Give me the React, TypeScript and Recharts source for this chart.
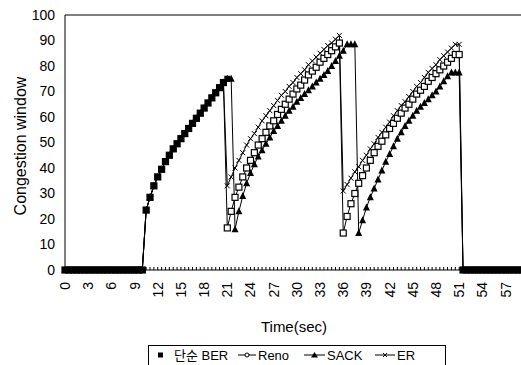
import React from "react";
import { LineChart, Line, XAxis, YAxis, ReferenceLine } from "recharts";

const _ = null;

// time axis, every 0.5 s
const time = [
  0, 0.5, 1, 1.5, 2, 2.5, 3, 3.5, 4, 4.5, 5, 5.5, 6, 6.5, 7, 7.5, 8, 8.5, 9, 9.5,
  10, 10.5, 11, 11.5, 12, 12.5, 13, 13.5, 14, 14.5, 15, 15.5, 16, 16.5, 17, 17.5,
  18, 18.5, 19, 19.5, 20, 20.5, 21, 21.5, 22, 22.5, 23, 23.5, 24, 24.5, 25, 25.5,
  26, 26.5, 27, 27.5, 28, 28.5, 29, 29.5, 30, 30.5, 31, 31.5, 32, 32.5, 33, 33.5,
  34, 34.5, 35, 35.5, 36, 36.5, 37, 37.5, 38, 38.5, 39, 39.5, 40, 40.5, 41, 41.5,
  42, 42.5, 43, 43.5, 44, 44.5, 45, 45.5, 46, 46.5, 47, 47.5, 48, 48.5, 49, 49.5,
  50, 50.5, 51, 51.5, 52, 52.5, 53, 53.5, 54, 54.5, 55, 55.5, 56, 56.5, 57, 57.5,
  58, 58.5, 59,
];

const timeLabels = [0, 3, 6, 9, 12, 15, 18, 21, 24, 27, 30, 33, 36, 39, 42, 45, 48, 51, 54, 57];
const yTicks = [0, 10, 20, 30, 40, 50, 60, 70, 80, 90, 100];

// 단순 BER
const berValues = [
  0, 0, 0, 0, 0, 0, 0, 0, 0, 0, 0, 0, 0, 0, 0, 0, 0, 0, 0, 0, 0,
  23.5, 28.5, 33, 36.5, 39.5, 42.5, 45, 47.5, 49.5, 51.5, 53.5, 55.5, 57.5, 59.5,
  61.5, 63.5, 65.5, 67.5, 69.5, 71.5, 73.5, 75,
  _, _, _, _, _, _, _, _, _, _, _, _, _, _, _, _, _, _, _, _,
  _, _, _, _, _, _, _, _, _, _, _, _, _, _, _, _, _, _, _, _,
  _, _, _, _, _, _, _, _, _, _, _, _, _, _, _, _, _, _, _, _,
  0, 0, 0, 0, 0, 0, 0, 0, 0, 0, 0, 0, 0, 0, 0, 0,
];

const renoValues = [
  0, 0, 0, 0, 0, 0, 0, 0, 0, 0, 0, 0, 0, 0, 0, 0, 0, 0, 0, 0, 0,
  23.5, 28.5, 33, 36.5, 39.5, 42.5, 45, 47.5, 49.5, 51.5, 53.5, 55.5, 57.5, 59.5,
  61.5, 63.5, 65.5, 67.5, 69.5, 71.5, 73.5,
  16.5, 23, 28.5, 32.5, 36.5, 40, 43, 46, 49, 51.5, 54, 56.5, 58.5, 61, 63,
  65, 67, 69, 71, 72.5, 74.5, 76.5, 78, 79.5, 81.5, 83, 84.5, 86, 87.5, 89,
  14.5, 21, 26, 30, 34, 37, 40, 43, 46, 48.5, 50.5, 53, 55.5, 57.5, 59.5, 61.5,
  63.5, 65, 67, 69, 70.5, 72, 74, 75.5, 77, 78.5, 80, 81.5, 83, 84.5, 84.5,
  0, 0, 0, 0, 0, 0, 0, 0, 0, 0, 0, 0, 0, 0, 0, 0,
];

const sackValues = [
  0, 0, 0, 0, 0, 0, 0, 0, 0, 0, 0, 0, 0, 0, 0, 0, 0, 0, 0, 0, 0,
  23.5, 28.5, 33, 36.5, 39.5, 42.5, 45, 47.5, 49.5, 51.5, 53.5, 55.5, 57.5, 59.5,
  61.5, 63.5, 65.5, 67.5, 69.5, 71.5, 73.5, 75,
  75,
  16, 23, 29, 34, 38, 41.5, 44.5, 47, 49.5, 52, 54.5, 56.5, 58.5, 60.5, 62.5,
  64, 66, 67.5, 69, 70.5, 72, 73.5, 75, 76.5, 78, 80, 82, 84, 86,
  88.5, 88.5, 88.5,
  14.5, 19.5, 24.5, 28.5, 32, 35.5, 39, 42.5, 45.5, 48.5, 51.5, 54, 56.5, 58.5,
  60.5, 62.5, 64, 65.5, 67, 68.5, 70, 72, 74, 76, 77.5, 77.5, 77.5,
  0, 0, 0, 0, 0, 0, 0, 0, 0, 0, 0, 0, 0, 0, 0, 0,
];

const erValues = [
  0, 0, 0, 0, 0, 0, 0, 0, 0, 0, 0, 0, 0, 0, 0, 0, 0, 0, 0, 0, 0,
  23.5, 28.5, 33, 36.5, 39.5, 42.5, 45, 47.5, 49.5, 51.5, 53.5, 55.5, 57.5, 59.5,
  61.5, 63.5, 65.5, 67.5, 69.5, 71.5, 73.5,
  33, 36.5, 40, 43, 46, 49, 51.5, 53.5, 56, 58.5, 60.5, 62.5, 64.5, 66.5, 68.5,
  70, 72, 73.5, 75.5, 77, 78.5, 80.5, 82, 83.5, 85, 86.5, 88, 89, 90.5, 92,
  31, 33.5, 36, 38.5, 40.5, 43, 45, 47.5, 49.5, 52, 54, 56, 58, 60.5, 62.5, 64.5,
  66, 68, 70, 72, 73.5, 75.5, 77.5, 79, 80.5, 82.5, 84, 85.5, 87, 88.5, 88.5,
  0, 0, 0, 0, 0, 0, 0, 0, 0, 0, 0, 0, 0, 0, 0, 0,
];

const data = time.map((t, i) => ({
  t,
  ber: berValues[i],
  reno: renoValues[i],
  sack: sackValues[i],
  er: erValues[i],
}));

const FONT = "'Liberation Sans', Arial, 'Noto Sans CJK KR', sans-serif";

const berDot = (p: any) => {
  if (p.value == null || p.cy == null) return <g key={p.index} />;
  return <rect key={p.index} x={p.cx - 3} y={p.cy - 3} width={6} height={6} fill="#000" />;
};

const renoDot = (p: any) => {
  if (p.value == null || p.cy == null) return <g key={p.index} />;
  return (
    <rect key={p.index} x={p.cx - 3} y={p.cy - 3} width={6} height={6} fill="#fff" stroke="#000" strokeWidth={1.2} />
  );
};

const sackDot = (p: any) => {
  if (p.value == null || p.cy == null) return <g key={p.index} />;
  const { cx, cy } = p;
  return <polygon key={p.index} points={`${cx},${cy - 4} ${cx - 3.5},${cy + 3} ${cx + 3.5},${cy + 3}`} fill="#000" />;
};

const erDot = (p: any) => {
  if (p.value == null || p.cy == null) return <g key={p.index} />;
  const { cx, cy } = p;
  return (
    <path key={p.index} d={`M${cx - 2.5},${cy - 2.5}L${cx + 2.5},${cy + 2.5}M${cx - 2.5},${cy + 2.5}L${cx + 2.5},${cy - 2.5}`} stroke="#000" strokeWidth={1} />
  );
};

const TimeTick = (props: any) => {
  const { x, y, payload } = props;
  const v = payload.value;
  const ly = y + 12;
  return (
    <g>
      <line x1={x} y1={y} x2={x} y2={y - 3} stroke="#000" strokeWidth={1} />
      {timeLabels.includes(v) && (
        <text
          x={x}
          y={ly}
          transform={`rotate(-90 ${x} ${ly})`}
          textAnchor="end"
          dominantBaseline="central"
          fontSize={14}
          fontFamily={FONT}
          fill="#000"
        >
          {v}
        </text>
      )}
    </g>
  );
};

function LegendBox() {
  const y = 355;
  return (
    <svg width={521} height={365} style={{ position: "absolute", left: 0, top: 0, pointerEvents: "none" }}>
      <rect x={148.5} y={345.5} width={297} height={30} fill="none" stroke="#000" strokeWidth={1} />
      <g fontFamily={FONT} fontSize={13} fill="#000">
        <rect x={158} y={y - 2.5} width={5} height={5} fill="#000" />
        <text x={174} y={y + 5}>단순 BER</text>

        <line x1={238} y1={y} x2={256} y2={y} stroke="#000" />
        <circle cx={247} cy={y} r={2} fill="#fff" stroke="#000" />
        <text x={258} y={y + 5}>Reno</text>

        <line x1={304} y1={y} x2={325} y2={y} stroke="#000" />
        <polygon points={`314.5,${y - 3} 311,${y + 2.5} 318,${y + 2.5}`} fill="#000" />
        <text x={327} y={y + 5}>SACK</text>

        <line x1={375} y1={y} x2={395} y2={y} stroke="#000" />
        <path d={`M383,${y - 2}L387,${y + 2}M383,${y + 2}L387,${y - 2}`} stroke="#000" />
        <text x={397} y={y + 5}>ER</text>
      </g>
    </svg>
  );
}

export default function App() {
  return (
    <div style={{ position: "absolute", left: 0, top: 0, width: 521, height: 365, background: "#fff" }}>
      <LineChart width={521} height={365} data={data} margin={{ top: 15, right: 0, left: 0, bottom: 25 }}>
        <XAxis
          dataKey="t"
          type="number"
          domain={[0, 59]}
          ticks={time}
          interval={0}
          tick={<TimeTick />}
          tickLine={false}
          tickSize={0}
          tickMargin={0}
          height={70}
          axisLine={{ stroke: "#000" }}
          label={() => (
            <text x={294} y={332} textAnchor="middle" fontSize={15} fontFamily={FONT} fill="#000">
              Time(sec)
            </text>
          )}
        />
        <YAxis
          type="number"
          domain={[0, 100]}
          ticks={yTicks}
          interval={0}
          width={65}
          tickLine={false}
          tickSize={0}
          tickMargin={10}
          axisLine={{ stroke: "#000" }}
          tick={{ fontSize: 14, fill: "#000", fontFamily: FONT }}
          label={() => (
            <text
              x={26}
              y={146}
              transform="rotate(-90 26 146)"
              textAnchor="middle"
              fontSize={16}
              fontFamily={FONT}
              fill="#000"
            >
              Congestion window
            </text>
          )}
        />
        <ReferenceLine y={100} stroke="#000" strokeWidth={1} />
        <Line dataKey="sack" stroke="#000" strokeWidth={1} dot={sackDot} activeDot={false} isAnimationActive={false} />
        <Line dataKey="er" stroke="#000" strokeWidth={1} dot={erDot} activeDot={false} isAnimationActive={false} />
        <Line dataKey="reno" stroke="#000" strokeWidth={1} dot={renoDot} activeDot={false} isAnimationActive={false} />
        <Line dataKey="ber" stroke="#000" strokeWidth={1} dot={berDot} activeDot={false} isAnimationActive={false} />
      </LineChart>
      <LegendBox />
    </div>
  );
}
